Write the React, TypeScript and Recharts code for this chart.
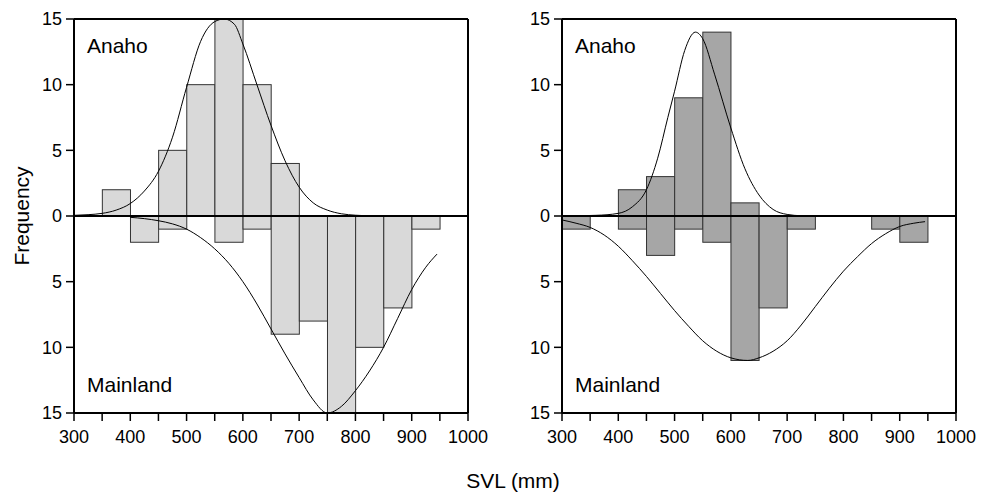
import React from 'react';
import { ComposedChart, Bar, Line, XAxis, YAxis, ReferenceLine } from 'recharts';

const binCenters = [325, 375, 425, 475, 525, 575, 625, 675, 725, 775, 825, 875, 925];
const leftAnaho = [0, 2, 0, 5, 10, 15, 10, 4, 0, 0, 0, 0, 0];
const leftMainland = [0, 0, 2, 1, 0, 2, 1, 9, 8, 15, 10, 7, 1];
const rightAnaho = [0, 0, 2, 3, 9, 14, 1, 0, 0, 0, 0, 0, 0];
const rightMainland = [1, 0, 1, 3, 1, 2, 11, 7, 1, 0, 0, 1, 2];

const leftAnahoCurve: [number, number][] = [
  [300, 0.05], [325, 0.1], [350, 0.2], [375, 0.45], [400, 0.95], [425, 1.9], [450, 3.4], [475, 6.0],
  [500, 9.8], [525, 13.3], [550, 14.8], [567, 15.0], [585, 14.6], [600, 13.1], [625, 10.0], [650, 6.9],
  [675, 4.2], [700, 2.2], [725, 1.0], [750, 0.45], [775, 0.17], [800, 0.06], [825, 0.02], [850, 0],
];
const leftMainlandCurve: [number, number][] = [
  [400, 0.1], [425, 0.2], [450, 0.36], [475, 0.6], [500, 1.0], [525, 1.65], [550, 2.5], [575, 3.6],
  [600, 5.0], [625, 6.7], [650, 8.6], [675, 10.5], [700, 12.3], [725, 14.0], [750, 15.0], [775, 14.5],
  [800, 13.3], [825, 11.8], [850, 10.0], [875, 7.8], [900, 5.6], [925, 3.9], [945, 2.9],
];
const rightAnahoCurve: [number, number][] = [
  [300, 0], [360, 0.05], [400, 0.2], [425, 0.7], [450, 2.0], [470, 4.4], [488, 7.5], [500, 9.5],
  [518, 12.6], [537, 14.0], [550, 13.5], [571, 10.8], [600, 6.7], [625, 3.6], [650, 1.6], [675, 0.5],
  [700, 0.12], [725, 0.02], [750, 0],
];
const rightMainlandCurve: [number, number][] = [
  [300, 0.3], [325, 0.55], [350, 0.87], [375, 1.45], [400, 2.3], [425, 3.4], [450, 4.6], [475, 5.9],
  [500, 7.2], [525, 8.4], [550, 9.5], [575, 10.3], [600, 10.8], [630, 11.0], [650, 10.8], [675, 10.3],
  [700, 9.5], [725, 8.3], [750, 6.9], [775, 5.5], [800, 4.2], [825, 3.1], [850, 2.1], [875, 1.35],
  [900, 0.8], [925, 0.55], [945, 0.43],
];

const xTicks = [300, 350, 400, 450, 500, 550, 600, 650, 700, 750, 800, 850, 900, 950, 1000];
const yTicks = [-15, -10, -5, 0, 5, 10, 15];
const BIN_WIDTH = 50;

const FONT = '"Liberation Sans", Arial, Helvetica, sans-serif';
const PLOT_WIDTH = 394;
const X_SPAN = 700;

function buildBars(up: number[], down: number[]) {
  return binCenters.map((x, i) => ({ x, up: up[i], down: -down[i] }));
}
function buildCurve(pts: [number, number][], sign: number) {
  return pts.map(([x, y]) => ({ x, y: sign * y }));
}

function BinShape(props: any) {
  const { x, y, width, height, fill } = props;
  if (!height) return null;
  const bw = (BIN_WIDTH / X_SPAN) * PLOT_WIDTH;
  const cx = x + width / 2;
  let top = y;
  let h = height;
  if (h < 0) {
    top = y + h;
    h = -h;
  }
  return <rect x={cx - bw / 2} y={top} width={bw} height={h} fill={fill} stroke="#333" strokeWidth={1} />;
}

type PanelProps = {
  left: number;
  up: number[];
  down: number[];
  upCurve: [number, number][];
  downCurve: [number, number][];
  fill: string;
};

function Panel({ left, up, down, upCurve, downCurve, fill }: PanelProps) {
  const data = buildBars(up, down);
  const tickStyle = { fill: '#000', fontSize: 18, fontFamily: FONT };
  return (
    <div style={{ position: 'absolute', left, top: 0 }}>
      <ComposedChart
        width={492}
        height={494}
        data={data}
        stackOffset="sign"
        margin={{ top: 19, right: 24, bottom: 51, left: 0 }}
      >
        <XAxis
          dataKey="x"
          type="number"
          domain={[300, 1000]}
          ticks={xTicks}
          interval={0}
          allowDataOverflow
          tickFormatter={(v: number) => (v % 100 === 0 ? String(v) : '')}
          tick={tickStyle}
          tickSize={8}
          tickMargin={9}
          height={30}
          axisLine={{ stroke: '#000', strokeWidth: 2 }}
          tickLine={{ stroke: '#000', strokeWidth: 1.5 }}
        />
        <YAxis
          type="number"
          domain={[-15, 15]}
          ticks={yTicks}
          interval={0}
          allowDataOverflow
          tickFormatter={(v: number) => String(Math.abs(v))}
          tick={tickStyle}
          tickSize={8}
          tickMargin={4}
          width={74}
          axisLine={{ stroke: '#000', strokeWidth: 2 }}
          tickLine={{ stroke: '#000', strokeWidth: 1.5 }}
        />
        <Bar dataKey="up" stackId="s" fill={fill} shape={<BinShape />} isAnimationActive={false} />
        <Bar dataKey="down" stackId="s" fill={fill} shape={<BinShape />} isAnimationActive={false} />
        <Line
          data={buildCurve(upCurve, 1)}
          dataKey="y"
          type="monotone"
          dot={false}
          stroke="#000"
          strokeWidth={1}
          isAnimationActive={false}
        />
        <Line
          data={buildCurve(downCurve, -1)}
          dataKey="y"
          type="monotone"
          dot={false}
          stroke="#000"
          strokeWidth={1}
          isAnimationActive={false}
        />
        <ReferenceLine y={0} stroke="#000" strokeWidth={2} />
        <ReferenceLine y={15} stroke="#000" strokeWidth={2} />
        <ReferenceLine x={1000} stroke="#000" strokeWidth={2} />
      </ComposedChart>
      <div style={{ position: 'absolute', left: 87, top: 34, fontFamily: FONT, fontSize: 21, lineHeight: '24px', color: '#000' }}>
        Anaho
      </div>
      <div style={{ position: 'absolute', left: 87, top: 373, fontFamily: FONT, fontSize: 21, lineHeight: '24px', color: '#000' }}>
        Mainland
      </div>
    </div>
  );
}

export default function App() {
  return (
    <div style={{ position: 'absolute', left: 0, top: 0, width: 990, height: 494, background: '#fff' }}>
      <Panel left={0} up={leftAnaho} down={leftMainland} upCurve={leftAnahoCurve} downCurve={leftMainlandCurve} fill="#d9d9d9" />
      <Panel left={488} up={rightAnaho} down={rightMainland} upCurve={rightAnahoCurve} downCurve={rightMainlandCurve} fill="#a6a6a6" />
      <div
        style={{
          position: 'absolute',
          left: 22,
          top: 216,
          transform: 'translate(-50%, -50%) rotate(-90deg)',
          fontFamily: FONT,
          fontSize: 21,
          color: '#000',
          whiteSpace: 'nowrap',
        }}
      >
        Frequency
      </div>
      <div
        style={{
          position: 'absolute',
          left: 513,
          top: 469,
          transform: 'translateX(-50%)',
          fontFamily: FONT,
          fontSize: 21,
          color: '#000',
          whiteSpace: 'nowrap',
          lineHeight: '24px',
        }}
      >
        SVL (mm)
      </div>
    </div>
  );
}
